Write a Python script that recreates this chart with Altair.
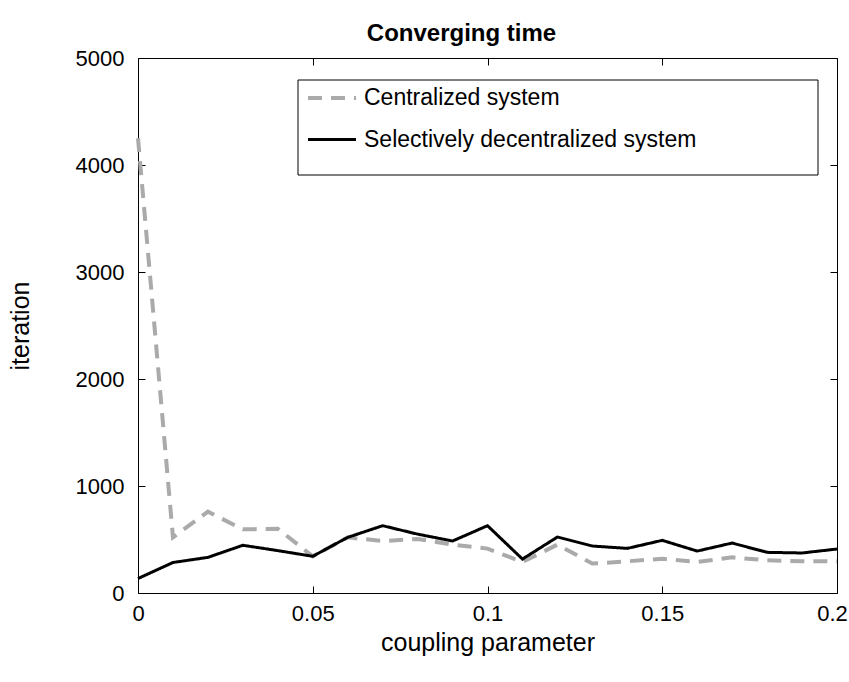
import altair as alt
import pandas as pd

# coupling parameter values on the x axis
coupling = [0.00, 0.01, 0.02, 0.03, 0.04, 0.05, 0.06, 0.07, 0.08, 0.09, 0.10,
            0.11, 0.12, 0.13, 0.14, 0.15, 0.16, 0.17, 0.18, 0.19, 0.20]

# iterations needed to converge
centralized = [4250, 520, 760, 595, 600, 343, 520, 485, 505, 452, 415,
               290, 452, 275, 296, 320, 290, 333, 305, 296, 296]
selective = [135, 285, 333, 446, 396, 343, 520, 629, 550, 486, 629,
             317, 523, 439, 417, 492, 392, 467, 380, 374, 411]

series_names = ["Centralized system", "Selectively decentralized system"]
x_ticks = [0, 0.05, 0.1, 0.15, 0.2]
y_ticks = [0, 1000, 2000, 3000, 4000, 5000]

W, H = 699, 535
FONT = "Liberation Sans"

df = pd.concat([
    pd.DataFrame({"x": coupling, "y": centralized, "series": series_names[0]}),
    pd.DataFrame({"x": coupling, "y": selective, "series": series_names[1]}),
])

x_scale = alt.Scale(domain=[0, 0.2], nice=False, zero=False)
y_scale = alt.Scale(domain=[0, 5000], nice=False)

legend = alt.Legend(
    title=None, orient="none", legendX=168, legendY=14,
    symbolType="stroke", symbolSize=2304, symbolStrokeWidth=3.5,
    labelFont=FONT, labelFontSize=23, labelColor="#000", labelLimit=0,
    labelOffset=6, rowPadding=4, padding=0,
)

base = alt.Chart(df)

lines = base.mark_line(strokeCap="butt").encode(
    x=alt.X("x:Q", scale=x_scale,
            axis=alt.Axis(values=x_ticks, format="~g", orient="bottom",
                          ticks=False, domain=False, grid=False,
                          labelFlush=False, labelPadding=10,
                          # keep the last label inside the page edge
                          labelOffset=alt.expr("datum.value >= 0.2 ? -5 : 0"),
                          title="coupling parameter", titlePadding=6)),
    y=alt.Y("y:Q", scale=y_scale,
            axis=alt.Axis(values=y_ticks, format="d", orient="left",
                          ticks=False, domain=False, grid=False,
                          labelFlush=False, labelPadding=14,
                          title="iteration", titlePadding=42)),
    color=alt.Color("series:N", scale=alt.Scale(domain=series_names,
                                                range=["#aaaaaa", "#000000"]),
                    legend=legend),
    strokeDash=alt.StrokeDash("series:N", scale=alt.Scale(domain=series_names,
                                                          range=[[14, 9], [1, 0]]),
                              legend=legend),
    strokeWidth=alt.StrokeWidth("series:N", scale=alt.Scale(domain=series_names,
                                                            range=[4, 3]),
                                legend=None),
)

# inner tick marks along all four edges of the frame
tick_axis = dict(labels=False, domain=False, grid=False, title=None,
                 ticks=True, tickSize=7, tickColor="#000", tickWidth=1)

inner_a = base.mark_point(opacity=0).encode(
    x=alt.X("x:Q", scale=x_scale,
            axis=alt.Axis(values=x_ticks, orient="top", offset=-H, **tick_axis)),
    y=alt.Y("y:Q", scale=y_scale,
            axis=alt.Axis(values=y_ticks, orient="right", offset=-W, **tick_axis)),
)
inner_b = base.mark_point(opacity=0).encode(
    x=alt.X("x:Q", scale=x_scale,
            axis=alt.Axis(values=x_ticks, orient="bottom", offset=-H, **tick_axis)),
    y=alt.Y("y:Q", scale=y_scale,
            axis=alt.Axis(values=y_ticks, orient="left", offset=-W, **tick_axis)),
)

legend_box = alt.Chart(alt.Data(values=[{}])).mark_rect(
    fill="white", stroke="#000", strokeWidth=1
).encode(
    x=alt.value(160), x2=alt.value(680), y=alt.value(22), y2=alt.value(117)
)

chart = alt.layer(legend_box, inner_a, inner_b, lines).resolve_axis(
    x="independent", y="independent"
).properties(
    width=W, height=H,
    autosize=alt.AutoSizeParams(type="none"),
    padding={"left": 138, "top": 58, "right": 12, "bottom": 89},
    title=alt.Title("Converging time", font=FONT, fontSize=24, fontWeight="bold",
                    color="#000", offset=1, anchor="middle", dx=-26),
).configure_view(
    stroke="#000", strokeWidth=1
).configure_axis(
    labelFont=FONT, labelFontSize=22, labelColor="#000",
    titleFont=FONT, titleFontSize=25, titleColor="#000", titleFontWeight="normal",
)

chart.save("out.html", embed_options={"renderer": "svg", "actions": False})
